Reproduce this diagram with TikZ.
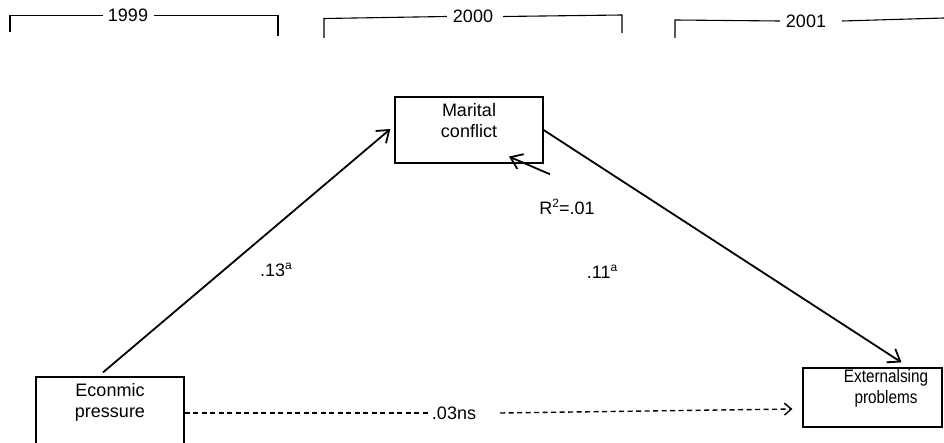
\documentclass[tikz,border=0pt]{standalone}
\usepackage{fontspec}
\setmainfont{Liberation Sans}
\usetikzlibrary{arrows.meta}
\newcommand\supx[1]{\raisebox{6.5pt}{\fontsize{12}{12}\selectfont #1}}
\begin{document}
\begin{tikzpicture}[x=1pt,y=-1pt,
  box/.style={draw, line width=1.2pt, inner sep=0pt},
  txt/.style={inner sep=0pt, align=center, font=\fontsize{18}{21.5}\selectfont},
  yr/.style={inner sep=0pt, font=\fontsize{18}{21.5}\selectfont},
  lbl/.style={inner sep=0pt, font=\fontsize{18}{21.5}\selectfont},
  bracket/.style={line width=1.1pt},
  solidarrow/.style={line width=1.8pt, -{Straight Barb[length=11pt,width=16pt]}},
  dashline/.style={line width=1.4pt, dash pattern=on 5pt off 3.5pt},
  dasharrow/.style={dashline, -{Straight Barb[length=7pt,width=12pt]}},
]
\useasboundingbox (0,0) rectangle (944,443);
\clip (0,0) rectangle (944,443);

% year brackets
\node[yr] (y99) at (128,15.5) {1999};
\draw[bracket] (10,32) |- ([xshift=-5pt]y99.west);
\draw[bracket] ([xshift=6pt]y99.east) -| (278,36);

\node[yr] (y00) at (473,16.5) {2000};
\draw[bracket] (324,38) -- (324,18.5) -- ([xshift=-6pt]y00.west);
\draw[bracket] ([xshift=10pt]y00.east) -- (622,15) -- (622,33);

\node[yr] (y01) at (806,21) {2001};
\draw[bracket] (675,38) -- (675,20) -- ([xshift=-6pt]y01.west);
\draw[bracket] ([xshift=16pt]y01.east) -- (944,18);

% boxes
\node[box, minimum width=148pt, minimum height=66pt] (mc) at (469,130) {};
\node[txt, anchor=north] (mct) at (469,103) {Marital\\conflict};
\node[box, minimum width=148pt, minimum height=74pt] (ep) at (110,414) {};
\node[txt, anchor=north] (ept) at (110,383) {Econmic\\pressure};
\node[box, minimum width=139pt, minimum height=59pt] (ex) at (872.5,397.5) {};
\node[txt, anchor=north] (ext) at (886,369) {\scalebox{0.85}[1]{Externalsing}\\\scalebox{0.85}[1]{problems}};

% labels
\node[lbl] (l13) at (276,270) {.13\supx{a}};
\node[lbl] (l11) at (602,272) {.11\supx{a}};
\node[lbl] (r2) at (567,207) {R\supx{2}=.01};
\node[lbl] (ns) at (454,413) {.03ns};

% connectors
\draw[solidarrow] ([shift={(-7pt,4pt)}]ep.north) -- ([shift={(-4pt,1pt)}]mc.west);
\draw[solidarrow] (mc.east) -- ([shift={(29pt,5pt)}]ex.north);
\draw[solidarrow] ([shift={(-17pt,25pt)}]r2.north) -- ([shift={(40pt,7pt)}]mc.south);
\draw[dashline] ([yshift=1pt]ep.east) -- ([xshift=-1pt]ns.west);
\draw[dasharrow] ([xshift=24pt]ns.east) -- ([shift={(-10pt,-11.5pt)}]ex.west);
\end{tikzpicture}
\end{document}
